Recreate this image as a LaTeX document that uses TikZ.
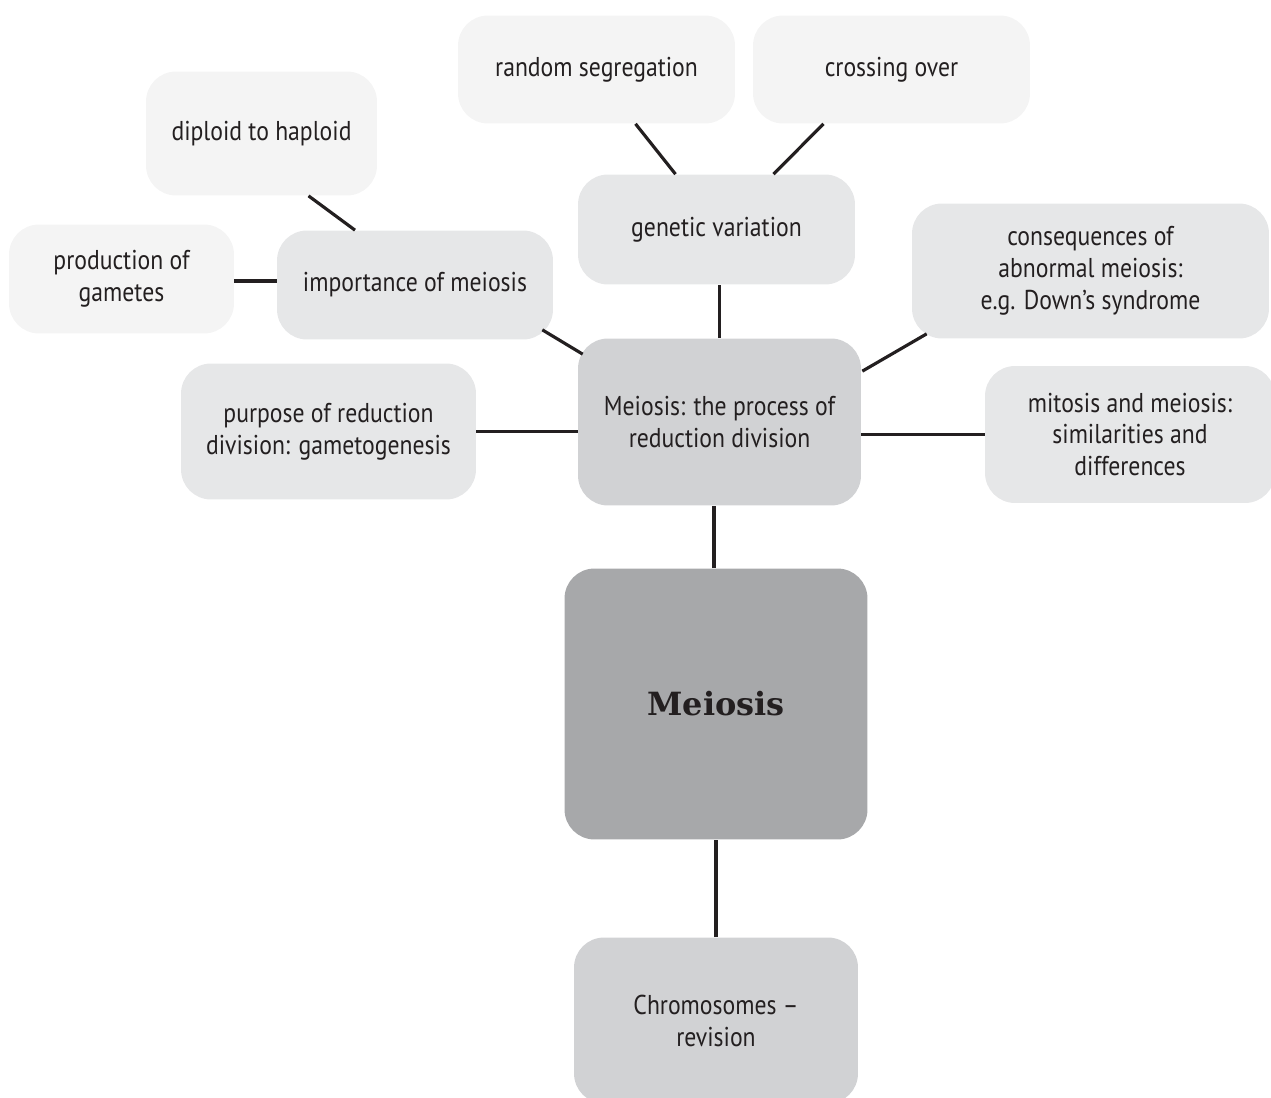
\documentclass[tikz,border=0pt]{standalone}
\usepackage{fontspec}
\setmainfont{PT Sans}[FakeStretch=0.87]
\newfontfamily\titlefont{DejaVu Serif}
\usetikzlibrary{calc}
\definecolor{txt}{HTML}{231F20}
\definecolor{gA}{HTML}{A7A8AA}
\definecolor{gB}{HTML}{D1D2D4}
\definecolor{gC}{HTML}{E6E7E8}
\definecolor{gD}{HTML}{F4F4F4}
\tikzset{
  box/.style={rectangle, rounded corners=0.6cm, inner sep=0pt, align=center,
    text=txt, font=\fontsize{15.5}{18.2}\selectfont},
  link/.style={line width=1.8pt, draw=txt},
}
\begin{document}
\begin{tikzpicture}[x=0.02cm, y=-0.02cm]
\useasboundingbox (0,0) rectangle (1271,1098);
% nodes
\node[box, fill=gD, minimum width=4.62cm, minimum height=2.48cm] (dip) at (261.5,133.5) {diploid to haploid};
\node[box, fill=gD, minimum width=4.5cm, minimum height=2.18cm] (prod) at (121.5,279) {production of\\gametes};
\node[box, fill=gC, minimum width=5.52cm, minimum height=2.18cm] (imp) at (415,285) {importance of meiosis};
\node[box, fill=gD, minimum width=5.54cm, minimum height=2.16cm] (rand) at (596.5,69.5) {random segregation};
\node[box, fill=gD, minimum width=5.54cm, minimum height=2.16cm] (cross) at (891.5,69.5) {crossing over};
\node[box, fill=gC, minimum width=5.54cm, minimum height=2.2cm] (gen) at (716.5,229.5) {genetic variation};
\node[box, fill=gC, minimum width=7.14cm, minimum height=2.7cm] (cons) at (1090.5,271) {consequences of\\abnormal meiosis:\\e.g. Down’s syndrome};
\node[box, fill=gB, minimum width=5.66cm, minimum height=3.34cm] (proc) at (719.5,422) {Meiosis: the process of\\reduction division};
\node[box, fill=gC, minimum width=5.9cm, minimum height=2.72cm] (purp) at (328.5,431.5) {purpose of reduction\\division: gametogenesis};
\node[box, fill=gC, minimum width=5.8cm, minimum height=2.74cm] (mit) at (1130,434.5) {mitosis and meiosis:\\similarities and\\differences};
\node[box, fill=gA, minimum width=6.06cm, minimum height=5.42cm, font=\titlefont\bfseries\fontsize{18.2}{21}\selectfont] (mei) at (716,704) {Meiosis};
\node[box, fill=gB, minimum width=5.68cm, minimum height=3.32cm] (chr) at (716,1020.5) {Chromosomes –\\revision};
% connectors
\draw[link] ($(dip.south)+(47,0)$) -- ($(imp.north)+(-60,0)$);
\draw[link] ($(prod.east)+(0,2)$) -- ($(prod.east -| imp.west)+(0,2)$);
\draw[link] ($(imp.south east)+(-11,-10)$) -- ($(proc.north west)+(5,16)$);
\draw[link] ($(rand.south)+(39,0)$) -- ($(gen.north)+(-41,0)$);
\draw[link] ($(cross.south)+(-68,0)$) -- ($(gen.north)+(57,0)$);
\draw[link] (proc.north) -- (proc.north |- gen.south);
\draw[link] ($(cons.south west)+(15,-5)$) -- ($(proc.north east)+(1,33)$);
\draw[link] (purp.east) -- (purp.east -| proc.west);
\draw[link] (mit.west) -- (mit.west -| proc.east);
\draw[link] ($(mei.north)+(-2,0)$) -- ($(mei.north |- proc.south)+(-2,0)$);
\draw[link] (chr.north) -- (chr.north |- mei.south);
\end{tikzpicture}
\end{document}
